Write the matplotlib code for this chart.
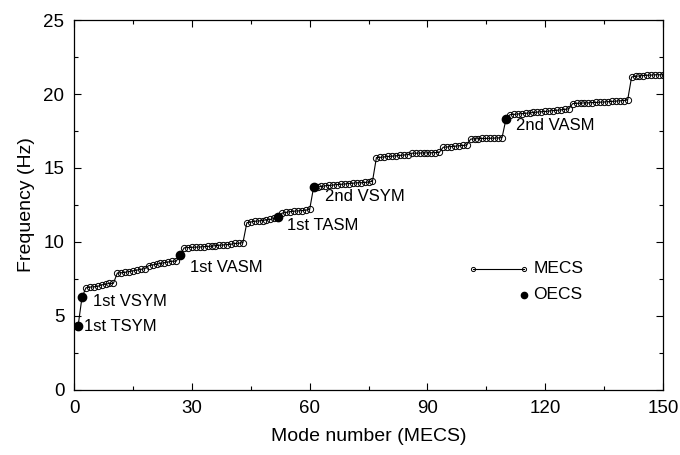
import matplotlib.pyplot as plt
import numpy as np
from matplotlib.ticker import MultipleLocator

plt.rcParams['font.family'] = ['Liberation Sans', 'DejaVu Sans']

# MECS frequencies (Hz), modes 1..150
mecs = [
    4.3, 6.25,
    6.9, 6.95, 6.97, 7.0, 7.1, 7.15, 7.2, 7.2,
    7.9, 7.92, 7.95, 8.0, 8.05, 8.1, 8.15, 8.2,
    8.4, 8.45, 8.5, 8.55, 8.6, 8.65, 8.7, 8.7,
    9.1,
    9.6, 9.62, 9.64, 9.65, 9.66, 9.68, 9.7, 9.72, 9.75, 9.78, 9.8, 9.82, 9.85, 9.9, 9.92, 9.95,
    11.3, 11.35, 11.4, 11.42, 11.45, 11.5, 11.52, 11.6,
    11.7,
    11.95, 12.0, 12.05, 12.08, 12.1, 12.12, 12.15, 12.2,
    13.7,
    13.72, 13.75, 13.8, 13.82, 13.85, 13.88, 13.9, 13.92, 13.95, 13.97, 14.0, 14.0, 14.02, 14.05, 14.1,
    15.7, 15.72, 15.75, 15.78, 15.8, 15.82, 15.85, 15.88, 15.9,
    16.0, 16.0, 16.01, 16.02, 16.02, 16.03, 16.04, 16.05,
    16.4, 16.42, 16.45, 16.47, 16.5, 16.52, 16.55,
    16.95, 16.97, 16.98, 17.0, 17.0, 17.01, 17.02, 17.03, 17.05,
    18.3,
    18.6, 18.62, 18.65, 18.67, 18.7, 18.72, 18.75, 18.78, 18.8, 18.82, 18.85, 18.88, 18.9, 18.93, 18.96, 19.0,
    19.35, 19.37, 19.38, 19.4, 19.4, 19.42, 19.43, 19.45, 19.46, 19.48, 19.5, 19.52, 19.54, 19.56, 19.6,
    21.15, 21.2, 21.22, 21.25, 21.27, 21.28, 21.3, 21.3, 21.3,
]
modes = np.arange(1, len(mecs) + 1)

# OECS modes
oecs_modes = [1, 2, 27, 52, 61, 110]
oecs_freq = [4.3, 6.25, 9.1, 11.7, 13.7, 18.3]
oecs_names = ['1st TSYM', '1st VSYM', '1st VASM', '1st TASM', '2nd VSYM', '2nd VASM']
label_x = [2.5, 4.9, 29.5, 54.2, 64.0, 112.5]
label_y = [4.3, 5.95, 8.25, 11.1, 13.05, 17.85]

fig = plt.figure(figsize=(6.8, 4.55), dpi=100)
ax = fig.add_axes([0.109, 0.143, 0.866, 0.813])

ax.plot(modes, mecs, '-', color='k', lw=0.8, marker='o', ms=4.5,
        mfc='none', mec='k', mew=0.7, zorder=2)
ax.plot(oecs_modes, oecs_freq, 'o', color='k', ms=6, zorder=3)
for n, lx, ly in zip(oecs_names, label_x, label_y):
    ax.text(lx, ly, n, fontsize=12, va='center', ha='left')

# legend drawn by hand
tr = ax.transAxes
ax.plot([0.677, 0.764], [0.327, 0.327], '-', color='k', lw=0.8, marker='o',
        ms=3, mfc='none', mew=0.7, transform=tr, clip_on=False)
ax.plot([0.764], [0.257], 'o', color='k', ms=4.5, transform=tr)
ax.text(0.780, 0.327, 'MECS', fontsize=12.5, va='center', transform=tr)
ax.text(0.780, 0.257, 'OECS', fontsize=12.5, va='center', transform=tr)

ax.set_xlim(0, 150)
ax.set_ylim(0, 25)
ax.xaxis.set_major_locator(MultipleLocator(30))
ax.xaxis.set_minor_locator(MultipleLocator(15))
ax.yaxis.set_major_locator(MultipleLocator(5))
ax.yaxis.set_minor_locator(MultipleLocator(2.5))
ax.tick_params(which='both', direction='in', top=True, right=True, width=0.8)
ax.tick_params(which='major', length=5, labelsize=13.5, pad=7)
ax.tick_params(which='minor', length=3)
for s in ax.spines.values():
    s.set_linewidth(0.9)

ax.set_xlabel('Mode number (MECS)', fontsize=14, labelpad=8)
ax.set_ylabel('Frequency (Hz)', fontsize=14, labelpad=6)

fig.savefig('out.png', dpi=100)
